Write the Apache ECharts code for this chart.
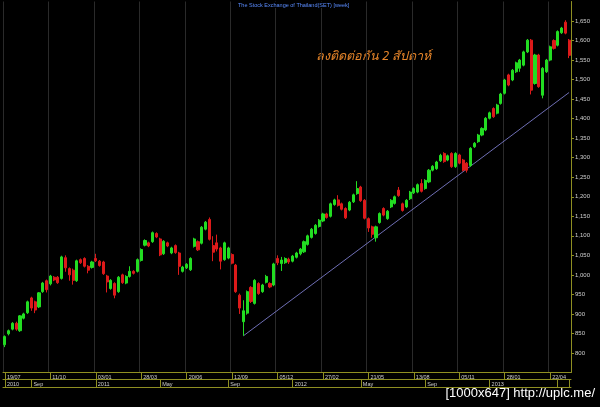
<!DOCTYPE html>
<html>
<head>
<meta charset="utf-8">
<script src="https://cdn.jsdelivr.net/npm/echarts@6/dist/echarts.min.js"></script>
<style>
html,body{margin:0;padding:0;background:#000;}
#chart{width:600px;height:407px;}
</style>
</head>
<body>
<div id="chart"></div>
<script>
// ---- data (weekly SET index, Jul 2010 - May 2013) ----
const startDate = [2010, 6, 19]; // first weekly bar: 19/07/2010
const opens = [821,849,861,876,857,889,903,941,931,918,957,985,977,994,994,991,1044,1016,1012,985,
1039,1042,1022,1019,1042,1035,1033,997,965,978,957,1000,979,996,1009,1009,1037,1076,1082,1085,
1106,1092,1054,1082,1056,1075,1056,1009,1018,1013,1073,1085,1081,1117,1142,1075,1082,1069,1039,1043,
1052,1025,948,880,902,968,927,978,957,981,978,974,1042,1029,1031,1040,1035,1045,1054,1059,
1078,1096,1106,1124,1138,1156,1150,1180,1192,1182,1170,1166,1187,1208,1225,1191,1144,1123,1095,1134,
1170,1144,1174,1183,1217,1182,1174,1195,1210,1212,1234,1221,1238,1268,1272,1292,1311,1294,1311,1277,
1307,1294,1286,1280,1328,1341,1358,1371,1401,1426,1414,1439,1465,1512,1499,1520,1529,1537,1571,1601,
1490,1563,1460,1520,1550,1600,1588,1620,1647,1601];
const closes = [842,857,876,861,895,900,931,915,910,954,979,962,997,987,980,1046,1018,1000,986,1036,
1031,1022,1012,1033,1036,1024,1003,982,986,948,994,980,996,1009,1004,1039,1065,1088,1074,1108,
1097,1051,1086,1074,1069,1057,1022,1020,1027,1042,1092,1064,1122,1135,1091,1058,1066,1035,1082,1069,
1030,957,915,908,957,932,986,952,974,996,969,1028,1031,1038,1042,1033,1048,1056,1066,1085,
1100,1117,1127,1140,1156,1147,1182,1192,1178,1168,1146,1186,1205,1221,1190,1145,1120,1104,1123,1157,
1153,1163,1191,1200,1203,1165,1191,1212,1221,1231,1214,1242,1268,1278,1289,1306,1290,1305,1277,1311,
1286,1268,1268,1324,1337,1358,1375,1401,1415,1405,1435,1463,1499,1486,1524,1543,1550,1571,1601,1473,
1563,1482,1529,1550,1584,1580,1623,1632,1619,1562.07];
const lows = [815,845,858,857,854,886,900,908,902,915,954,955,973,984,977,988,1008,985,975,982,
1028,1019,1004,1016,1033,1021,1000,955,962,940,954,977,976,993,1001,1006,1034,1073,1071,1082,
1094,1048,1051,1071,1053,1054,1000,1006,1015,1010,1070,1061,1078,1114,1088,1035,1060,1014,1036,1040,
1027,954,900,844,898,928,924,949,954,978,966,971,1025,1010,1028,1028,1032,1042,1050,1056,
1075,1093,1103,1121,1135,1144,1147,1177,1175,1165,1143,1163,1184,1205,1187,1142,1110,1095,1085,1131,
1150,1141,1171,1180,1200,1162,1171,1192,1207,1209,1211,1218,1235,1265,1269,1289,1287,1291,1274,1274,
1283,1265,1262,1277,1325,1338,1355,1368,1398,1402,1411,1436,1462,1483,1496,1517,1520,1534,1568,1462,
1487,1479,1452,1517,1547,1577,1585,1617,1616,1555];
const highs = [845,860,879,880,897,903,934,944,934,956,982,988,1000,997,997,1049,1050,1019,1016,1039,
1042,1045,1025,1036,1054,1038,1036,1000,989,981,997,1003,999,1022,1012,1042,1068,1091,1085,1111,
1109,1095,1089,1085,1072,1078,1059,1023,1030,1045,1095,1088,1125,1138,1147,1099,1103,1072,1085,1072,
1055,1028,952,935,960,971,989,981,977,1000,981,1031,1050,1046,1045,1044,1051,1059,1069,1088,
1103,1120,1130,1143,1159,1159,1185,1195,1204,1185,1173,1189,1208,1240,1228,1194,1147,1126,1126,1160,
1173,1166,1194,1203,1225,1185,1194,1215,1224,1234,1245,1245,1271,1281,1292,1310,1314,1308,1314,1314,
1310,1297,1289,1327,1340,1361,1378,1404,1418,1429,1438,1466,1502,1515,1527,1546,1553,1574,1604,1604,
1566,1566,1532,1553,1587,1603,1626,1635,1652,1604];
const lastPrice = 1562.07;
const trendLine = [[63, 844], [149, 1467]];
const monthTicks = [[0,'2010'],[7,'Sep'],[24,'2011'],[41,'May'],[59,'Sep'],[76,'2012'],[94,'May'],[111,'Sep'],[128,'2013'],[146,''],[149,'']];
const weekTickEvery = 12;
const titleText = 'The Stock Exchange of Thailand(SET) [week]';
const noteText = 'ลงติดต่อกัน 2 สัปดาห์';
const watermark = '[1000x647] http://uplc.me/';

// ---- build ----
const pad = n => (n < 10 ? '0' : '') + n;
const t0 = Date.UTC(startDate[0], startDate[1], startDate[2]);
const categories = opens.map((_, i) => {
  const d = new Date(t0 + i * 7 * 86400000);
  return pad(d.getUTCDate()) + '/' + pad(d.getUTCMonth() + 1) + '/' + d.getUTCFullYear();
});
const candles = opens.map((o, i) => [o, closes[i], lows[i], highs[i]]);
const monthMap = {};
monthTicks.forEach(m => { monthMap[m[0]] = m[1]; });
const isWeekTick = i => i % weekTickEvery === 0;
const isMonthTick = i => Object.prototype.hasOwnProperty.call(monthMap, i);

const olive = '#8f8f22';
const fmtNum = v => v.toLocaleString('en-US');

const chart = echarts.init(document.getElementById('chart'), null, {renderer: 'canvas'});
chart.setOption({
  backgroundColor: '#000',
  animation: false,
  title: {
    text: titleText, left: 236, top: 2,
    backgroundColor: '#000', padding: [0, 2],
    textStyle: {color: '#5a8cff', fontSize: 5.5, fontWeight: 'normal', fontFamily: 'Liberation Sans, Arial'}
  },
  grid: {left: 3, right: 29, top: 1.5, bottom: 34.5},
  xAxis: [
    {
      type: 'category', data: categories, boundaryGap: true, position: 'bottom',
      axisLine: {show: true, lineStyle: {color: olive, width: 1}},
      axisTick: {show: true, alignWithLabel: true, length: 7, interval: (i) => isWeekTick(i), lineStyle: {color: olive}},
      axisLabel: {
        show: true, interval: (i) => isWeekTick(i), align: 'left', margin: 1.5, padding: [0, 0, 0, 2],
        color: '#cfcfcf', fontSize: 5.5, fontFamily: 'Liberation Sans, Arial',
        formatter: v => v.slice(0, 5)
      },
      splitLine: {show: true, interval: (i) => isWeekTick(i), lineStyle: {color: '#2a2a2a', width: 1}}
    },
    {
      type: 'category', data: categories, boundaryGap: true, position: 'bottom', offset: 7,
      axisLine: {show: true, lineStyle: {color: olive, width: 1}},
      axisTick: {show: true, alignWithLabel: true, length: 7.5, interval: (i) => isMonthTick(i), lineStyle: {color: olive}},
      axisLabel: {
        show: true, interval: (i) => isMonthTick(i), align: 'left', margin: 1.5, padding: [0, 0, 0, 2],
        color: '#cfcfcf', fontSize: 5.5, fontFamily: 'Liberation Sans, Arial',
        formatter: (v, i) => monthMap[i] || ''
      },
      splitLine: {show: false}
    },
    {
      type: 'category', data: categories, boundaryGap: true, position: 'bottom', offset: 14.5,
      axisLine: {show: true, lineStyle: {color: olive, width: 1}},
      axisTick: {show: false}, axisLabel: {show: false}, splitLine: {show: false}
    }
  ],
  yAxis: {
    type: 'value', position: 'right', min: 750, max: 1700, interval: 50, scale: false,
    axisLine: {show: true, lineStyle: {color: olive, width: 1}},
    axisTick: {show: true, length: 3, lineStyle: {color: olive}},
    axisLabel: {
      color: '#cfcfcf', fontSize: 6, margin: 4, fontFamily: 'Liberation Sans, Arial',
      showMinLabel: false, showMaxLabel: false, formatter: fmtNum
    },
    splitLine: {show: false}
  },
  series: [
    {
      type: 'candlestick', data: candles, barWidth: 2.6,
      itemStyle: {color: '#22dd22', color0: '#dd1a1a', borderColor: '#22dd22', borderColor0: '#dd1a1a', borderWidth: 1},
      markLine: {
        silent: true, symbol: 'none', animation: false,
        lineStyle: {opacity: 0},
        label: {
          show: true, position: 'end', distance: 1, formatter: () => lastPrice.toFixed(2).replace(/\B(?=(\d{3})+(?!\d))/, ','),
          backgroundColor: '#c9f2c0', color: '#1a3a1a', fontSize: 6, padding: [1, 2], fontFamily: 'Liberation Sans, Arial'
        },
        data: [{yAxis: lastPrice}]
      }
    },
    {
      type: 'line', data: trendLine, symbol: 'none',
      lineStyle: {color: '#6e6eb4', width: 1}, z: 1
    }
  ],
  graphic: [
    {type: 'text', left: 316, top: 50, style: {text: noteText, fill: '#e8862a', font: 'italic 12.5px "Noto Sans", sans-serif'}},
    {type: 'text', right: 5, top: 387, style: {text: watermark, fill: '#ffffff', font: '13px "Liberation Sans", sans-serif'}}
  ]
});
</script>
</body>
</html>
